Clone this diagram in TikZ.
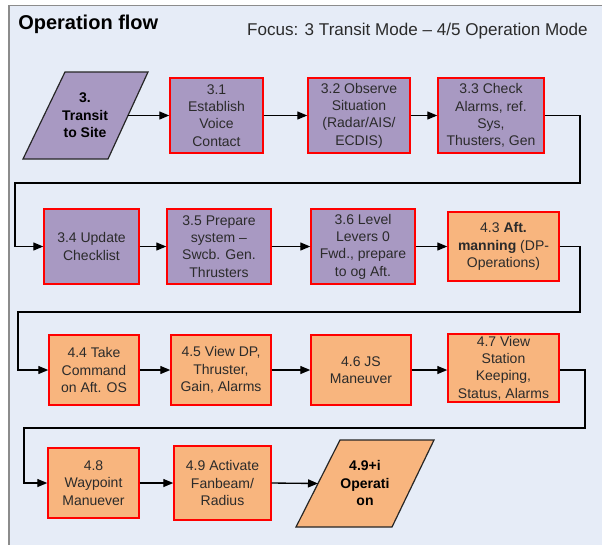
\documentclass[tikz,border=0pt]{standalone}
\usepackage{fontspec}
\setmainfont{Liberation Sans}
\usetikzlibrary{arrows.meta,calc}
\definecolor{panelbg}{HTML}{E6ECF7}
\definecolor{panelln}{HTML}{8C8C8C}
\definecolor{purp}{HTML}{A899C2}
\definecolor{orng}{HTML}{F8B57E}
\definecolor{txt}{HTML}{2B2B2B}
\begin{document}
\begin{tikzpicture}[x=0.75pt,y=-0.75pt,
  sz/.style 2 args={minimum width=#1*0.75pt, minimum height=#2*0.75pt},
  box/.style={draw=red, line width=1.1pt, inner sep=1pt, align=center, text=txt,
    font=\fontsize{10.5pt}{13pt}\selectfont},
  pbox/.style={box, fill=purp},
  obox/.style={box, fill=orng},
  paraline/.style={draw=black!85, line width=0.9pt, line join=miter},
  paratext/.style={inner sep=0pt, align=center, font=\bfseries\fontsize{10.5pt}{13pt}\selectfont},
  conn/.style={line width=1pt, -{Triangle[length=7.5pt,width=6pt]}}]
\useasboundingbox (0,0) rectangle (602,544);
\fill[white] (0,0) rectangle (602,544);
\draw[panelln, fill=panelbg, line width=0.8pt] (9,5.5) rectangle (640,580);
\node[anchor=base west, inner sep=0pt, font=\bfseries\fontsize{15pt}{18pt}\selectfont] (title) at (18,29) {Operation flow};
\node[anchor=base east, inner sep=0pt, text=txt, font=\fontsize{12.8pt}{15pt}\selectfont] (focus) at (588,35) {Focus: 3 Transit Mode -- 4/5 Operation Mode};

% row 1
\coordinate (p3tl) at (65,72);
\coordinate (p3tr) at (148,72);
\coordinate (p3br) at (108,159);
\coordinate (p3bl) at (23,159);
\filldraw[paraline, fill=purp] (p3tl) -- (p3tr) -- (p3br) -- (p3bl) -- cycle;
\coordinate (p3e) at ($(p3tr)!0.5!(p3br)$);
\node[paratext] (p3) at (85,115.5) {3.\\Transit\\to Site};
\node[pbox, sz={93}{75}] (b31) at (216.5,115.5) {3.1\\Establish\\Voice\\Contact};
\node[pbox, sz={102}{75}] (b32) at (359,115.5) {3.2 Observe\\Situation\\(Radar/AIS/\\ECDIS)};
\node[pbox, sz={106}{75}] (b33) at (491,115.5) {3.3 Check\\Alarms, ref.\\Sys,\\Thusters, Gen};
% row 2
\node[pbox, sz={95}{75}] (b34) at (91.5,246.5) {3.4 Update\\Checklist};
\node[pbox, sz={104}{75}] (b35) at (219,246.5) {3.5 Prepare\\system --\\Swcb. Gen.\\Thrusters};
\node[pbox, sz={104}{75}] (b36) at (363,246.5) {3.6 Level\\Levers 0\\Fwd., prepare\\to og Aft.};
\node[obox, sz={111}{69}] (b43) at (503.5,246.5) {4.3 \textbf{Aft.}\\\textbf{manning} (DP-\\Operations)};
% row 3
\node[obox, sz={90}{70}] (b44) at (94,370) {4.4 Take\\Command\\on Aft. OS};
\node[obox, sz={100}{70}] (b45) at (221,370) {4.5 View DP,\\Thruster,\\Gain, Alarms};
\node[obox, sz={100}{70}] (b46) at (361,370) {4.6 JS\\Maneuver};
\node[obox, sz={111}{68}] (b47) at (503.5,368) {4.7 View\\Station\\Keeping,\\Status, Alarms};
% row 4
\node[obox, sz={91}{70}] (b48) at (93.5,483) {4.8\\Waypoint\\Manuever};
\node[obox, sz={97}{74}] (b49) at (222.5,483) {4.9 Activate\\Fanbeam/\\Radius};
\coordinate (p49tl) at (340,440);
\coordinate (p49tr) at (434,440);
\coordinate (p49br) at (392,527);
\coordinate (p49bl) at (296,527);
\filldraw[paraline, fill=orng] (p49tl) -- (p49tr) -- (p49br) -- (p49bl) -- cycle;
\coordinate (p49w) at ($(p49tl)!0.5!(p49bl)$);
\node[paratext] (p49) at (365,483) {4.9+i\\Operati\\on};

% connectors
\draw[conn] (p3e) -- (b31.west);
\draw[conn] (b31) -- (b32);
\draw[conn] (b32) -- (b33);
\coordinate (k1) at (580,183);
\coordinate (k2) at (15,183);
\draw[conn] (b33.east) -| (k1) -- (k2) |- (b34.west);
\draw[conn] (b34) -- (b35);
\draw[conn] (b35) -- (b36);
\draw[conn] (b36) -- (b43);
\coordinate (k3) at (580,312);
\coordinate (k4) at (18,312);
\draw[conn] (b43.east) -| (k3) -- (k4) |- (b44.west);
\draw[conn] (b44) -- (b45);
\draw[conn] (b45) -- (b46);
\draw[conn] (b46) -- (b47.west |- b46.east);
\coordinate (k5) at (585,428);
\coordinate (k6) at (24,428);
\draw[conn] (b47.east |- b46.east) -| (k5) -- (k6) |- (b48.west);
\draw[conn] (b48) -- (b49);
\draw[conn] (b49.east) -- (p49w);
\end{tikzpicture}
\end{document}
